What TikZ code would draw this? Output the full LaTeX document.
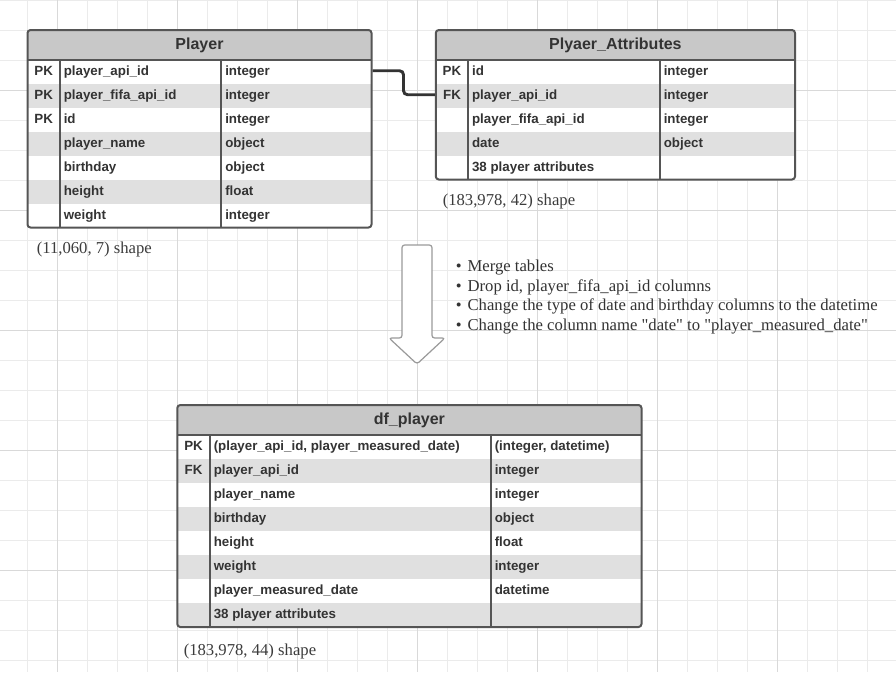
\documentclass[tikz,border=0pt]{standalone}
\usepackage{fontspec}
\setmainfont{Liberation Serif}[Ligatures=TeXOff]
\setsansfont{Liberation Sans}
\usetikzlibrary{fit,calc}
\definecolor{gridA}{HTML}{EBEBEB}
\definecolor{gridB}{HTML}{D9D9D9}
\definecolor{bord}{HTML}{555555}
\definecolor{hdrfill}{HTML}{C8C8C8}
\definecolor{rowgray}{HTML}{E0E0E0}
\definecolor{txt}{HTML}{333333}
\definecolor{txt2}{HTML}{3C3C3C}
\definecolor{connc}{HTML}{333333}
\definecolor{arrc}{HTML}{9A9A9A}
\tikzset{
  gridminor/.style={draw=gridA, line width=0.75pt},
  gridmajor/.style={draw=gridB, line width=0.75pt},
  tblbox/.style={draw=bord, line width=1.5pt, rounded corners=2.25pt, inner sep=0pt},
  sepline/.style={draw=bord, line width=1.5pt},
  hdrtxt/.style={font=\sffamily\bfseries\fontsize{12pt}{14pt}\selectfont, text=txt, anchor=base, inner sep=0pt},
  celltxt/.style={font=\sffamily\bfseries\fontsize{10pt}{12pt}\selectfont, text=txt, anchor=base west, inner sep=0pt},
  keytxt/.style={celltxt, anchor=base},
  shapetxt/.style={font=\fontsize{12.5pt}{15pt}\selectfont, text=txt2, anchor=base west, inner sep=0pt},
  bultxt/.style={shapetxt, text=txt},
  conn/.style={draw=connc, line width=2.2pt, rounded corners=3pt},
  arrowst/.style={draw=arrc, fill=white, line width=0.9pt, rounded corners=2pt},
}
\begin{document}
\begin{tikzpicture}[x=0.75pt,y=-0.75pt]
\useasboundingbox (0,0) rectangle (896,672);
\fill[white] (0,0) rectangle (896,672);
% grid
\foreach \k in {0,...,29} \draw[gridminor] ({27.5+30*\k},0) -- ({27.5+30*\k},672);
\foreach \k in {0,...,22} \draw[gridminor] (0,{0.5+30*\k}) -- (896,{0.5+30*\k});
\foreach \k in {0,...,6} \draw[gridmajor] ({57.5+120*\k},0) -- ({57.5+120*\k},672);
\foreach \k in {0,...,4} \draw[gridmajor] (0,{90.5+120*\k}) -- (896,{90.5+120*\k});

% ---------- Player table ----------
\begin{scope}
  \clip[rounded corners=2.25pt] (27.5,30) rectangle (371.5,227.5);
  \fill[white] (27.5,30) rectangle (371.5,227.5);
  \fill[hdrfill] (27.5,30) rectangle (371.5,60);
  \foreach \r in {2,4,6} \fill[rowgray] (27.5,{60+24*(\r-1)}) rectangle (371.5,{60+24*\r});
\end{scope}
\draw[sepline] (27.5,60) -- (371.5,60);
\draw[sepline] (60,60) -- (60,227.5);
\draw[sepline] (221,60) -- (221,227.5);
\node[tblbox, fit={(27.5,30) (371.5,227.5)}] (player) {};
\node[hdrtxt] (playerT) at (199.5,49) {Player};
\foreach \n [count=\i] in {player\_api\_id, player\_fifa\_api\_id, id, player\_name, birthday, height, weight}
  \node[celltxt] (pn\i) at (63.5,{51.3+24*\i}) {\n};
\foreach \t [count=\i] in {integer, integer, integer, object, object, float, integer}
  \node[celltxt] (pt\i) at (225,{51.3+24*\i}) {\t};
\foreach \i in {1,2,3} \node[keytxt] (pk\i) at (43.75,{51.3+24*\i}) {PK};
\node[shapetxt] (playerS) at (36.5,253.5) {(11,060, 7) shape};

% ---------- Plyaer_Attributes table ----------
\begin{scope}
  \clip[rounded corners=2.25pt] (435.8,30) rectangle (795,179.5);
  \fill[white] (435.8,30) rectangle (795,179.5);
  \fill[hdrfill] (435.8,30) rectangle (795,60);
  \foreach \r in {2,4} \fill[rowgray] (435.8,{60+24*(\r-1)}) rectangle (795,{60+24*\r});
\end{scope}
\draw[sepline] (435.8,60) -- (795,60);
\draw[sepline] (468.3,60) -- (468.3,179.5);
\draw[sepline] (660,60) -- (660,179.5);
\node[tblbox, fit={(435.8,30) (795,179.5)}] (attr) {};
\node[hdrtxt] (attrT) at (615.4,49) {Plyaer\_Attributes};
\foreach \n [count=\i] in {id, player\_api\_id, player\_fifa\_api\_id, date, 38 player attributes}
  \node[celltxt] (an\i) at (471.8,{51.3+24*\i}) {\n};
\foreach \t [count=\i] in {integer, integer, integer, object}
  \node[celltxt] (at\i) at (663.5,{51.3+24*\i}) {\t};
\node[keytxt] (ak1) at (452,75.3) {PK};
\node[keytxt] (ak2) at (452,99.3) {FK};
\node[shapetxt] (attrS) at (442.5,205) {(183,978, 42) shape};

% connector
\draw[conn] (player.east |- pk1) -- ++(31,0) |- (attr.west |- ak2);

% ---------- big arrow ----------
\filldraw[arrowst] (402,338) -- (402,245) -- (432,245) -- (432,338) -- (445,338) -- (417,364) -- (389,338) -- cycle;

% bullets
\node[bultxt] (b1) at (455.5,271.5) {•\hskip 4.5pt Merge tables};
\node[bultxt] (b2) at (455.5,291.2) {•\hskip 4.5pt Drop id, player\_fifa\_api\_id columns};
\node[bultxt] (b3) at (455.5,310.9) {•\hskip 4.5pt Change the type of date and birthday columns to the datetime};
\node[bultxt] (b4) at (455.5,330.6) {•\hskip 4.5pt Change the column name "date" to "player\_measured\_date"};

% ---------- df_player table ----------
\begin{scope}
  \clip[rounded corners=2.25pt] (177.3,405) rectangle (641.5,627);
  \fill[white] (177.3,405) rectangle (641.5,627);
  \fill[hdrfill] (177.3,405) rectangle (641.5,435);
  \foreach \r in {2,4,6,8} \fill[rowgray] (177.3,{435+24*(\r-1)}) rectangle (641.5,{435+24*\r});
\end{scope}
\draw[sepline] (177.3,435) -- (641.5,435);
\draw[sepline] (210,435) -- (210,627);
\draw[sepline] (491,435) -- (491,627);
\node[tblbox, fit={(177.3,405) (641.5,627)}] (df) {};
\node[hdrtxt] (dfT) at (409.4,424) {df\_player};
\foreach \n [count=\i] in {{(player\_api\_id, player\_measured\_date)}, player\_api\_id, player\_name, birthday, height, weight, player\_measured\_date, 38 player attributes}
  \node[celltxt] (dn\i) at (213.5,{426.3+24*\i}) {\n};
\foreach \t [count=\i] in {{(integer, datetime)}, integer, integer, object, float, integer, datetime}
  \node[celltxt] (dt\i) at (494.5,{426.3+24*\i}) {\t};
\node[keytxt] (dk1) at (193.6,450.3) {PK};
\node[keytxt] (dk2) at (193.6,474.3) {FK};
\node[shapetxt] (dfS) at (183.5,655) {(183,978, 44) shape};
\end{tikzpicture}
\end{document}
